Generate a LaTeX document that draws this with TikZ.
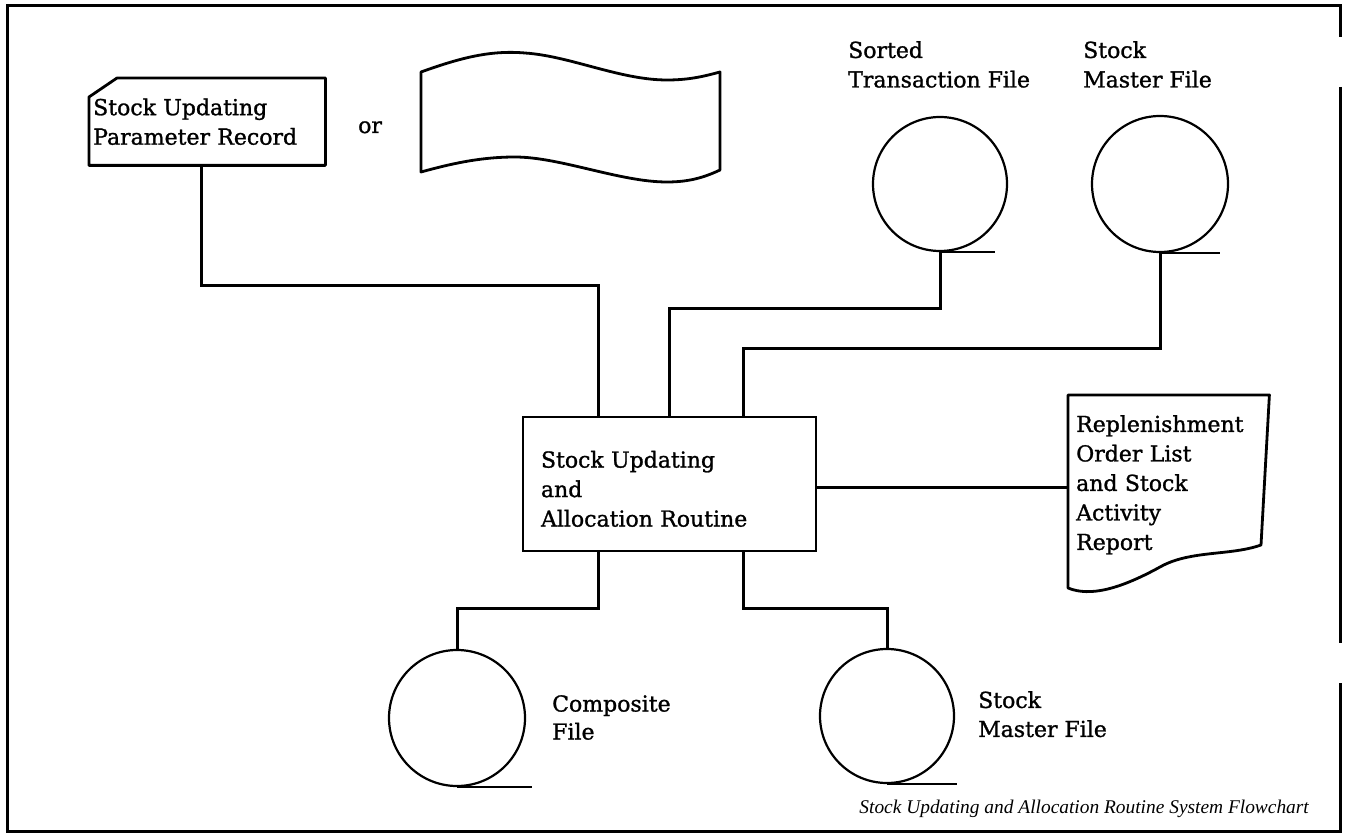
\documentclass[tikz,border=0pt]{standalone}
\usepackage{fontspec}
\setmainfont{DejaVu Serif}[FakeBold=1.2]
\newfontfamily\captionfont{Liberation Serif}
\usetikzlibrary{calc}
\begin{document}
\begin{tikzpicture}[x=1pt,y=-1pt,
  frame/.style={line width=3pt},
  conn/.style={line width=3pt, line join=miter},
  outline/.style={line width=2.8pt, line join=round},
  disk/.style={circle, draw, line width=2.2pt, minimum size=134pt, inner sep=0pt},
  tail/.style={line width=2.2pt},
  lbl/.style={font=\fontsize{22}{29.5}\selectfont, inner sep=0pt, align=left},
  capt/.style={font=\captionfont\itshape\fontsize{19.4}{23}\selectfont, inner sep=0pt}]
\useasboundingbox (0,0) rectangle (1346,834);

% outer frame with two breaks on the right side
\draw[frame] (1340,37) -- (1340,6) -- (7,6) -- (7,831) -- (1340,831) -- (1340,683);
\draw[frame] (1340,87) -- (1340,643);

% parameter record card with its cut corner
\node[lbl, anchor=north west, minimum width=236pt, minimum height=87pt,
      text width=228pt, inner xsep=4pt] (card) at (89,78)
  {Stock Updating\\Parameter Record};
\draw[outline] ($(card.north west)+(0,19)$) -- ($(card.north west)+(28,0)$)
  -- (card.north east) -- (card.south east) -- (card.south west) -- cycle;

\node[lbl, anchor=base west] (or) at (358,133) {or};

% punched tape
\node[minimum width=299pt, minimum height=100pt, inner sep=0pt] (tape) at (570.5,122) {};
\draw[outline] (421,72) .. controls (460,58) and (490,50) .. (525,53)
  .. controls (570,56) and (620,80) .. (667,80)
  .. controls (690,80) and (705,76) .. (720,72)
  -- (720,170)
  .. controls (705,177) and (690,182) .. (667,182)
  .. controls (620,182) and (560,157) .. (515,157)
  .. controls (480,157) and (450,164) .. (421,172) -- cycle;

% input files
\node[disk] (stf) at (940,184) {};
\draw[tail] (stf.south) -- ++(55,0);
\node[lbl, anchor=north west] (stflbl) at (848,41) {Sorted\\Transaction File};

\node[disk, minimum size=136pt] (smf) at (1160,184) {};
\draw[tail] (smf.south) -- ++(60,0);
\node[lbl, anchor=north west] (smflbl) at (1083,41) {Stock\\Master File};

% processing routine
\node[lbl, draw, line width=2.8pt, minimum width=293pt, minimum height=134pt,
      text width=257pt, inner xsep=0pt] (box) at (669.5,484)
  {\rule{0pt}{26.5pt}Stock Updating\\and\\Allocation Routine};
\coordinate (boxin1) at ($(box.north west)+(77,0)$);
\coordinate (boxin3) at ($(box.north west)+(222,0)$);
\coordinate (boxout1) at ($(box.south west)+(77,0)$);
\coordinate (boxout2) at ($(box.south west)+(222,0)$);

% report document
\node[lbl, anchor=north west, minimum width=193pt, text width=185pt,
      inner xsep=8pt, inner ysep=20pt] (rep) at (1068,395)
  {Replenishment\\Order List\\and Stock\\Activity\\Report};
\draw[outline] (rep.north west) -- (rep.north east) -- ($(rep.north west)+(193,150)$)
  .. controls ($(rep.north west)+(162,161)$) and ($(rep.north west)+(122,155)$) .. ($(rep.north west)+(92,172)$)
  .. controls ($(rep.north west)+(52,194)$) and ($(rep.north west)+(22,202)$) .. ($(rep.north west)+(0,193)$)
  -- cycle;

% output files
\node[disk, minimum size=136pt] (comp) at (457,718) {};
\draw[tail] (comp.south) -- ++(75,0);
\node[lbl, font=\fontsize{22}{28}\selectfont, anchor=north west] (complbl) at (552,695) {Composite\\File};

\node[disk] (smf2) at (887,716) {};
\draw[tail] (smf2.south) -- ++(70,0);
\node[lbl, font=\fontsize{22}{29}\selectfont, anchor=north west] (smf2lbl) at (978,691) {Stock\\Master File};

% connectors
\draw[conn] ([xshift=-6pt]card.south) -- ++(0,120) -| (boxin1);
\draw[conn] (stf.south) -- ++(0,56) -| (box.north);
\draw[conn] (smf.south) -- ++(0,95) -| (boxin3);
\draw[conn] ([yshift=-3pt]box.east) -- ([yshift=-3pt]box.east -| rep.west);
\draw[conn] (boxout1) -- ++(0,56) -| (comp.north);
\draw[conn] (boxout2) -- ++(0,56) -| (smf2.north);

\node[capt, anchor=base east] (caption) at (1309,813)
  {Stock Updating and Allocation Routine System Flowchart};
\end{tikzpicture}
\end{document}
